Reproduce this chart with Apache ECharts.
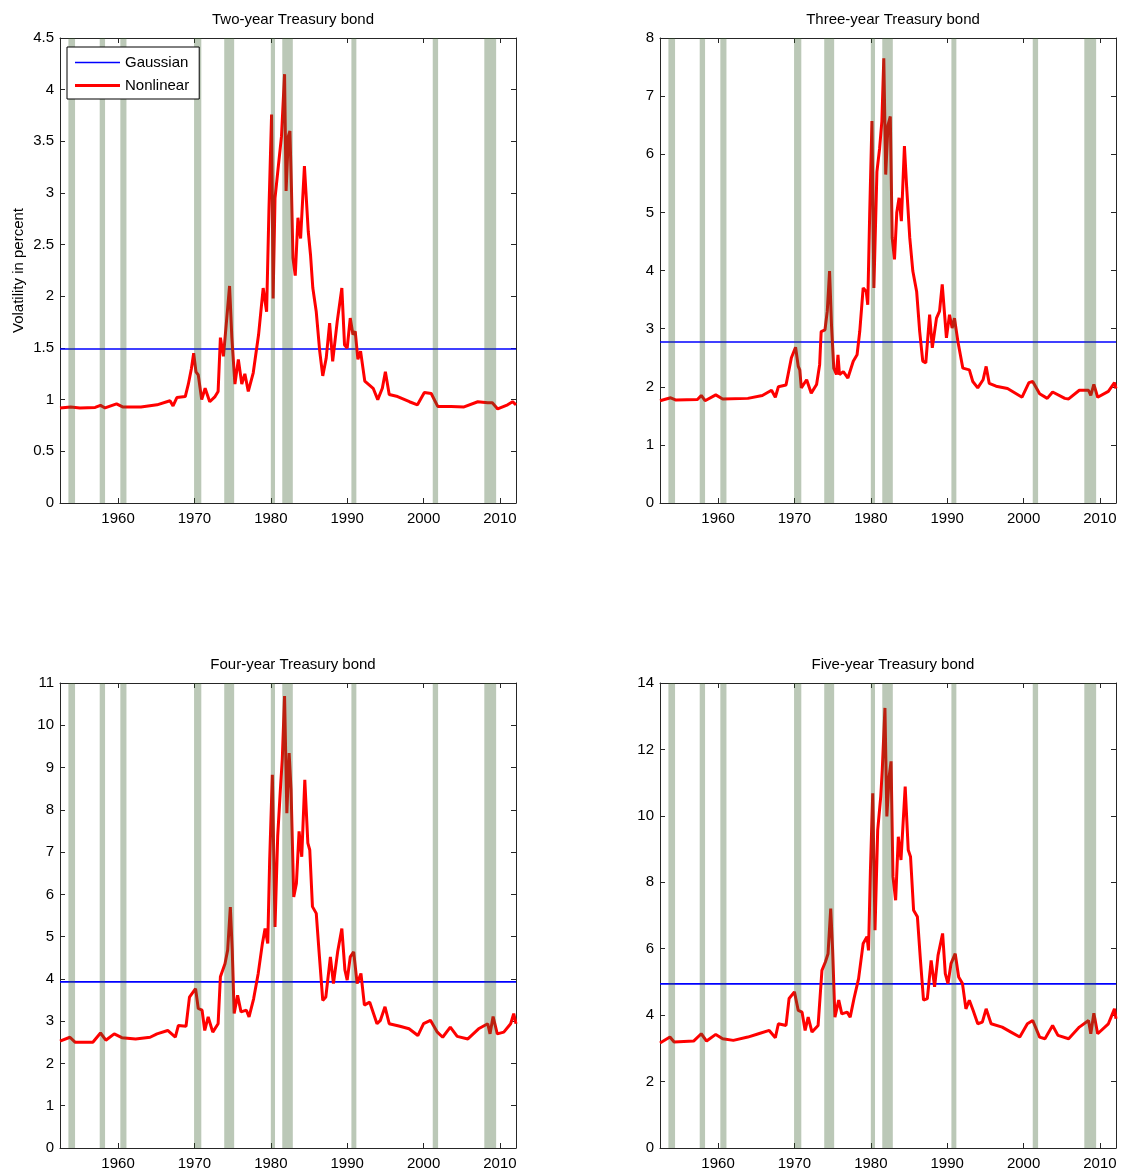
<!DOCTYPE html>
<html>
<head>
<meta charset="utf-8">
<script src="https://cdn.jsdelivr.net/npm/echarts@6/dist/echarts.min.js"></script>
<style>
html, body { margin: 0; background: #fff; }
#main { width: 1125px; height: 1174px; }
</style>
</head>
<body>
<div id="main"></div>
<script>
var titles = ['Two-year Treasury bond', 'Three-year Treasury bond', 'Four-year Treasury bond', 'Five-year Treasury bond'];
var yMax = [4.5, 8, 11, 14];
var yStep = [0.5, 1, 1, 2];
var yearTicks = [1960, 1970, 1980, 1990, 2000, 2010];
var xMin = 1952.4, xMax = 2012.1;

// constant volatility of the Gaussian model, one per bond
var gaussian = [1.49, 2.77, 3.93, 4.94];

// NBER recessions [start, end]
var recessions = [
	[1953.5, 1954.37], [1957.6, 1958.3], [1960.3, 1961.1], [1969.95, 1970.9], [1973.9, 1975.2],
	[1980.0, 1980.55], [1981.5, 1982.88], [1990.55, 1991.2], [2001.2, 2001.9], [2007.95, 2009.5]
];

// nonlinear model volatility [year, percent]
var twoYear = [
	[1952.4, 0.92], [1953.8, 0.93], [1955.0, 0.92], [1957.0, 0.925], [1957.7, 0.945], [1958.3, 0.92],
	[1959.8, 0.96], [1960.6, 0.93], [1963.0, 0.93], [1965.1, 0.95], [1966.8, 0.99], [1967.2, 0.94],
	[1967.7, 1.02], [1968.8, 1.03], [1969.2, 1.15], [1969.6, 1.3], [1969.9, 1.45], [1970.2, 1.27],
	[1970.5, 1.24], [1970.95, 1.0], [1971.4, 1.11], [1972.0, 0.98], [1972.7, 1.03], [1973.1, 1.08],
	[1973.4, 1.6], [1973.8, 1.42], [1974.2, 1.76], [1974.6, 2.1], [1974.9, 1.6], [1975.3, 1.15],
	[1975.75, 1.39], [1976.2, 1.15], [1976.6, 1.25], [1977.05, 1.08], [1977.7, 1.26], [1978.4, 1.63],
	[1979.0, 2.08], [1979.45, 1.85], [1979.75, 2.82], [1980.1, 3.76], [1980.3, 1.98], [1980.55, 2.95],
	[1981.0, 3.27], [1981.4, 3.55], [1981.8, 4.15], [1982.0, 3.02], [1982.3, 3.55], [1982.5, 3.6],
	[1982.7, 3.05], [1982.9, 2.37], [1983.2, 2.2], [1983.55, 2.76], [1983.9, 2.56], [1984.4, 3.26],
	[1984.9, 2.63], [1985.2, 2.4], [1985.5, 2.08], [1985.95, 1.85], [1986.4, 1.47], [1986.8, 1.23],
	[1987.25, 1.4], [1987.7, 1.74], [1988.1, 1.37], [1988.7, 1.76], [1989.3, 2.08], [1989.65, 1.53],
	[1990.0, 1.5], [1990.4, 1.79], [1990.75, 1.63], [1991.05, 1.66], [1991.4, 1.39], [1991.75, 1.47],
	[1992.3, 1.18], [1993.4, 1.11], [1994.0, 1.0], [1994.6, 1.11], [1995.0, 1.27], [1995.5, 1.05],
	[1996.6, 1.03], [1998.15, 0.98], [1999.2, 0.95], [2000.1, 1.07], [2001.0, 1.06], [2001.85, 0.935],
	[2003.6, 0.935], [2005.3, 0.93], [2007.1, 0.98], [2008.4, 0.97], [2009.0, 0.97], [2009.7, 0.91],
	[2011.0, 0.95], [2011.65, 0.98], [2012.1, 0.95]
];
var threeYear = [
	[1952.4, 1.76], [1953.8, 1.81], [1954.5, 1.77], [1957.3, 1.78], [1957.8, 1.85], [1958.3, 1.76],
	[1959.7, 1.86], [1960.6, 1.79], [1963.9, 1.80], [1965.8, 1.85], [1967.0, 1.94], [1967.5, 1.82],
	[1967.9, 2.0], [1968.9, 2.03], [1969.6, 2.5], [1970.15, 2.68], [1970.5, 2.35], [1970.7, 2.29],
	[1970.9, 1.98], [1971.6, 2.12], [1972.2, 1.89], [1972.9, 2.04], [1973.3, 2.38], [1973.5, 2.95],
	[1974.0, 2.98], [1974.3, 3.3], [1974.6, 3.99], [1974.85, 3.07], [1975.15, 2.32], [1975.5, 2.21],
	[1975.7, 2.55], [1975.9, 2.21], [1976.4, 2.26], [1977.0, 2.15], [1977.7, 2.44], [1978.2, 2.55],
	[1978.55, 2.95], [1979.0, 3.7], [1979.4, 3.64], [1979.6, 3.41], [1979.85, 4.96], [1980.15, 6.57],
	[1980.4, 3.7], [1980.8, 5.7], [1981.15, 6.1], [1981.45, 6.57], [1981.7, 7.65], [1981.95, 5.65],
	[1982.25, 6.5], [1982.55, 6.65], [1982.8, 4.56], [1983.1, 4.19], [1983.4, 5.0], [1983.7, 5.25],
	[1984.0, 4.85], [1984.4, 6.14], [1984.7, 5.42], [1985.1, 4.56], [1985.5, 3.99], [1986.0, 3.64],
	[1986.4, 2.95], [1986.8, 2.44], [1987.2, 2.41], [1987.7, 3.24], [1988.05, 2.67], [1988.6, 3.18],
	[1989.0, 3.3], [1989.35, 3.76], [1989.9, 2.84], [1990.3, 3.24], [1990.65, 3.01], [1990.95, 3.18],
	[1991.4, 2.78], [1992.05, 2.32], [1992.9, 2.29], [1993.35, 2.09], [1994.0, 1.98], [1994.7, 2.12],
	[1995.1, 2.35], [1995.5, 2.06], [1996.4, 2.01], [1997.9, 1.97], [1999.8, 1.82], [2000.7, 2.07],
	[2001.2, 2.09], [2002.1, 1.88], [2003.1, 1.80], [2003.8, 1.91], [2005.4, 1.80], [2005.9, 1.79],
	[2007.3, 1.94], [2008.5, 1.94], [2008.8, 1.85], [2009.2, 2.04], [2009.7, 1.82], [2011.1, 1.92],
	[2011.9, 2.07], [2012.1, 1.97]
];
var fourYear = [
	[1952.4, 2.53], [1953.7, 2.62], [1954.4, 2.5], [1956.7, 2.5], [1957.7, 2.72], [1958.4, 2.55],
	[1959.5, 2.7], [1960.5, 2.61], [1962.3, 2.58], [1964.2, 2.62], [1965.1, 2.7], [1966.5, 2.78],
	[1967.5, 2.62], [1967.9, 2.9], [1968.9, 2.88], [1969.35, 3.57], [1970.15, 3.77], [1970.5, 3.3],
	[1971.0, 3.26], [1971.35, 2.78], [1971.8, 3.1], [1972.4, 2.74], [1973.1, 2.94], [1973.4, 4.05],
	[1974.0, 4.36], [1974.35, 4.68], [1974.7, 5.7], [1974.95, 4.68], [1975.2, 3.18], [1975.65, 3.61],
	[1976.1, 3.22], [1976.8, 3.26], [1977.15, 3.1], [1977.75, 3.53], [1978.35, 4.13], [1978.9, 4.84],
	[1979.25, 5.19], [1979.6, 4.84], [1979.85, 6.81], [1980.2, 8.83], [1980.55, 5.23], [1980.9, 7.37],
	[1981.25, 8.47], [1981.5, 9.19], [1981.8, 10.69], [1982.1, 7.92], [1982.4, 9.34], [1982.65, 8.47],
	[1983.0, 5.94], [1983.35, 6.26], [1983.7, 7.49], [1984.05, 6.89], [1984.45, 8.71], [1984.85, 7.21],
	[1985.1, 7.05], [1985.45, 5.71], [1985.95, 5.55], [1986.3, 4.68], [1986.8, 3.49], [1987.2, 3.57],
	[1987.8, 4.52], [1988.2, 3.89], [1988.75, 4.64], [1989.3, 5.19], [1989.7, 4.21], [1990.0, 3.97],
	[1990.4, 4.52], [1990.85, 4.64], [1991.3, 3.89], [1991.8, 4.13], [1992.25, 3.38], [1992.95, 3.45],
	[1993.9, 2.94], [1994.35, 3.02], [1994.95, 3.34], [1995.5, 2.94], [1996.9, 2.88], [1998.1, 2.82],
	[1999.25, 2.66], [2000.0, 2.94], [2000.9, 3.02], [2001.8, 2.74], [2002.5, 2.62], [2003.5, 2.86],
	[2004.4, 2.64], [2005.8, 2.58], [2007.2, 2.82], [2008.4, 2.94], [2008.7, 2.7], [2009.1, 3.11],
	[2009.65, 2.7], [2010.5, 2.74], [2011.4, 2.94], [2011.8, 3.18], [2012.1, 2.94]
];
var fiveYear = [
	[1952.4, 3.16], [1953.7, 3.34], [1954.25, 3.19], [1956.8, 3.22], [1957.8, 3.44], [1958.5, 3.22],
	[1959.7, 3.42], [1960.6, 3.29], [1962.0, 3.24], [1963.9, 3.34], [1965.3, 3.44], [1966.7, 3.54],
	[1967.5, 3.32], [1967.9, 3.74], [1968.9, 3.69], [1969.3, 4.5], [1970.0, 4.7], [1970.5, 4.14],
	[1971.0, 4.09], [1971.4, 3.54], [1971.8, 3.94], [1972.3, 3.49], [1973.1, 3.69], [1973.6, 5.35],
	[1974.05, 5.6], [1974.4, 5.85], [1974.75, 7.21], [1975.0, 5.95], [1975.3, 3.94], [1975.8, 4.45],
	[1976.2, 4.04], [1976.9, 4.09], [1977.3, 3.94], [1977.8, 4.5], [1978.4, 5.1], [1979.0, 6.16],
	[1979.5, 6.36], [1979.7, 5.95], [1979.95, 8.37], [1980.25, 10.68], [1980.55, 6.56], [1980.9, 9.57],
	[1981.3, 10.58], [1981.5, 11.38], [1981.85, 13.25], [1982.1, 9.98], [1982.4, 11.18], [1982.65, 11.64],
	[1982.9, 8.17], [1983.25, 7.46], [1983.6, 9.37], [1983.95, 8.67], [1984.5, 10.88], [1984.9, 8.97],
	[1985.2, 8.77], [1985.6, 7.16], [1986.1, 6.96], [1986.5, 5.65], [1986.9, 4.45], [1987.4, 4.5],
	[1987.9, 5.65], [1988.35, 4.85], [1988.8, 5.8], [1989.4, 6.46], [1989.75, 5.25], [1990.1, 4.95],
	[1990.5, 5.55], [1991.05, 5.85], [1991.5, 5.15], [1992.0, 4.95], [1992.45, 4.19], [1992.9, 4.45],
	[1993.4, 4.14], [1994.0, 3.74], [1994.6, 3.79], [1995.1, 4.19], [1995.75, 3.74], [1997.2, 3.64],
	[1998.35, 3.49], [1999.5, 3.34], [2000.5, 3.74], [2001.2, 3.84], [2002.1, 3.34], [2002.8, 3.29],
	[2003.8, 3.69], [2004.5, 3.39], [2005.9, 3.29], [2007.3, 3.64], [2008.5, 3.84], [2008.8, 3.44],
	[2009.2, 4.06], [2009.7, 3.44], [2011.1, 3.74], [2011.9, 4.19], [2012.1, 3.89]
];
var nonlinear = [twoYear, threeYear, fourYear, fiveYear];

var font = 'Liberation Sans';
var axisColor = '#262626';
var panels = [
	{left: 60, top: 38}, {left: 660, top: 38},
	{left: 60, top: 683}, {left: 660, top: 683}
];
var plotW = 456, plotH = 465;

var chart = echarts.init(document.getElementById('main'));

function xAxisFor(g, pos) {
	return {
		gridIndex: g, type: 'value', position: pos,
		min: xMin, max: xMax,
		axisLine: {show: true, onZero: false, lineStyle: {color: axisColor, width: 1}},
		axisTick: {show: true, inside: true, length: 5, customValues: yearTicks, lineStyle: {color: axisColor}},
		axisLabel: {
			show: pos === 'bottom', customValues: yearTicks, margin: 8,
			color: '#000', fontSize: 15, fontFamily: font,
			formatter: function (v) { return String(v); }
		},
		splitLine: {show: false}
	};
}

function yAxisFor(g, pos) {
	var ax = {
		gridIndex: g, type: 'value', position: pos,
		min: 0, max: yMax[g], interval: yStep[g],
		axisLine: {show: true, onZero: false, lineStyle: {color: axisColor, width: 1}},
		axisTick: {show: true, inside: true, length: 5, lineStyle: {color: axisColor}},
		axisLabel: {show: pos === 'left', margin: 6, color: '#000', fontSize: 15, fontFamily: font},
		splitLine: {show: false}
	};
	if (g === 0 && pos === 'left') {
		ax.name = 'Volatility in percent';
		ax.nameLocation = 'middle';
		ax.nameGap = 34;
		ax.nameTextStyle = {color: '#000', fontSize: 15, fontFamily: font};
	}
	return ax;
}

var grids = [], xAxes = [], yAxes = [], series = [], titleList = [];
for (var g = 0; g < 4; g++) {
	var p = panels[g];
	grids.push({left: p.left, top: p.top, width: plotW, height: plotH, containLabel: false});
	xAxes.push(xAxisFor(g, 'bottom'));
	xAxes.push(xAxisFor(g, 'top'));
	yAxes.push(yAxisFor(g, 'left'));
	yAxes.push(yAxisFor(g, 'right'));
	titleList.push({
		text: titles[g], left: p.left + plotW / 2, top: p.top - 31, textAlign: 'center',
		textStyle: {fontSize: 15, fontWeight: 'normal', color: '#000', fontFamily: font}
	});
	series.push({
		name: 'Gaussian', type: 'line', xAxisIndex: 2 * g, yAxisIndex: 2 * g,
		data: [[xMin, gaussian[g]], [xMax, gaussian[g]]],
		symbol: 'none', silent: true, z: 2,
		lineStyle: {color: '#0000ff', width: 1.6}, itemStyle: {color: '#0000ff'}
	});
	series.push({
		name: 'Nonlinear', type: 'line', xAxisIndex: 2 * g, yAxisIndex: 2 * g,
		data: nonlinear[g],
		symbol: 'none', silent: true, z: 3,
		lineStyle: {color: '#ff0000', width: 3}, itemStyle: {color: '#ff0000'}
	});
	series.push({
		name: 'recession', type: 'line', xAxisIndex: 2 * g, yAxisIndex: 2 * g,
		data: [], symbol: 'none', silent: true, z: 5,
		markArea: {
			silent: true, z: 5,
			itemStyle: {color: 'rgba(56,95,44,0.34)'},
			data: recessions.map(function (r) { return [{xAxis: r[0]}, {xAxis: r[1]}]; })
		}
	});
}

var option = {
	animation: false,
	backgroundColor: '#fff',
	title: titleList,
	legend: {
		data: [
			{name: 'Gaussian', icon: 'path://M0,0L45,0L45,1.6L0,1.6Z'},
			{name: 'Nonlinear', icon: 'path://M0,0L45,0L45,3L0,3Z'}
		],
		orient: 'vertical', left: 67, top: 47,
		itemWidth: 45, itemHeight: 14, itemGap: 8,
		padding: [8, 10, 6, 8],
		symbolKeepAspect: true,
		backgroundColor: '#fff', borderColor: '#000', borderWidth: 1, borderRadius: 0,
		selectedMode: false, z: 10,
		textStyle: {fontSize: 15, color: '#000', fontFamily: font}
	},
	grid: grids,
	xAxis: xAxes,
	yAxis: yAxes,
	series: series
};
chart.setOption(option);
</script>
</body>
</html>
